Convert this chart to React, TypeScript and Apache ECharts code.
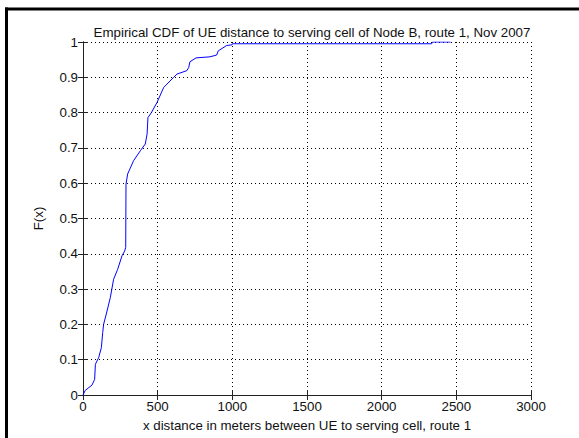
import React, { useEffect, useRef } from "react";
import * as echarts from "echarts";

const titleText = "Empirical CDF of UE distance to serving cell of Node B, route 1, Nov 2007";
const xName = "x distance in meters between UE to serving cell, route 1";
const yName = "F(x)";

const distances = [0, 15, 60, 78, 83, 105, 123, 132, 138, 161, 183, 205, 232, 261, 279, 286, 288, 299, 339, 384, 417, 429, 435, 458, 496, 540, 607, 629, 696, 708, 716, 757, 850, 895, 906, 962, 998, 1000, 2335, 2340, 2462];
const cdfValues = [0, 0.013, 0.028, 0.044, 0.087, 0.106, 0.134, 0.177, 0.2, 0.238, 0.276, 0.328, 0.356, 0.394, 0.408, 0.418, 0.597, 0.626, 0.664, 0.692, 0.711, 0.739, 0.786, 0.8, 0.829, 0.871, 0.9, 0.909, 0.919, 0.928, 0.944, 0.955, 0.958, 0.963, 0.975, 0.99, 0.992, 0.995, 0.995, 1.0, 1.0];

const FONT = "'Liberation Sans', Arial, sans-serif";

export default function App() {
  const ref = useRef<HTMLDivElement>(null);
  useEffect(() => {
    if (!ref.current) return;
    const chart = echarts.init(ref.current, null, { renderer: "svg" });
    const axisLine = { show: true, lineStyle: { color: "#222", width: 1 } };
    const tick = { show: true, inside: true, length: 5, lineStyle: { color: "#222" } };
    const grid = { show: true, lineStyle: { color: "#000", type: [1, 3] as any, width: 1 } };
    chart.setOption({
      animation: false,
      backgroundColor: "#fff",
      textStyle: { fontFamily: FONT },
      title: {
        text: titleText,
        left: 307,
        top: 21,
        textAlign: "center",
        textStyle: { fontSize: 13.3, fontWeight: "normal", color: "#111", fontFamily: FONT },
      },
      grid: { left: 83, top: 42, width: 448, height: 353, containLabel: false },
      xAxis: [
        {
          type: "value", min: 0, max: 3000, interval: 500, position: "bottom",
          axisLine, axisTick: tick, splitLine: grid,
          axisLabel: { fontSize: 13.3, color: "#111", margin: 5, fontFamily: FONT, formatter: (v: number) => String(Math.round(v)) },
          name: xName, nameLocation: "middle", nameGap: 24,
          nameTextStyle: { fontSize: 13.3, color: "#111", fontFamily: FONT },
        },
        {
          type: "value", min: 0, max: 3000, interval: 500, position: "top",
          axisLine, axisTick: tick, splitLine: { show: false }, axisLabel: { show: false },
        },
      ],
      yAxis: [
        {
          type: "value", min: 0, max: 1, interval: 0.1, position: "left",
          axisLine, axisTick: tick, splitLine: grid,
          axisLabel: { fontSize: 13.3, color: "#111", margin: 5, fontFamily: FONT, formatter: (v: number) => String(Math.round(v * 10) / 10) },
          name: yName, nameLocation: "middle", nameGap: 38, nameRotate: 90,
          nameTextStyle: { fontSize: 13.3, color: "#111", fontFamily: FONT },
        },
        {
          type: "value", min: 0, max: 1, interval: 0.1, position: "right",
          axisLine, axisTick: tick, splitLine: { show: false }, axisLabel: { show: false },
        },
      ],
      series: [
        {
          type: "line",
          xAxisIndex: 0,
          yAxisIndex: 0,
          showSymbol: false,
          symbol: "none",
          lineStyle: { color: "#0000ff", width: 1 },
          data: distances.map((d, i) => [d, cdfValues[i]]),
          z: 5,
        },
      ],
      graphic: [
        { type: "line", shape: { x1: 6.5, y1: 7.5, x2: 6.5, y2: 438 }, style: { stroke: "#000", lineWidth: 3 } },
        { type: "line", shape: { x1: 5, y1: 9, x2: 579, y2: 9 }, style: { stroke: "#000", lineWidth: 3 } },
      ],
    });
    return () => chart.dispose();
  }, []);
  return (
    <div
      ref={ref}
      style={{ position: "absolute", left: 0, top: 0, width: 579, height: 438 }}
    />
  );
}
